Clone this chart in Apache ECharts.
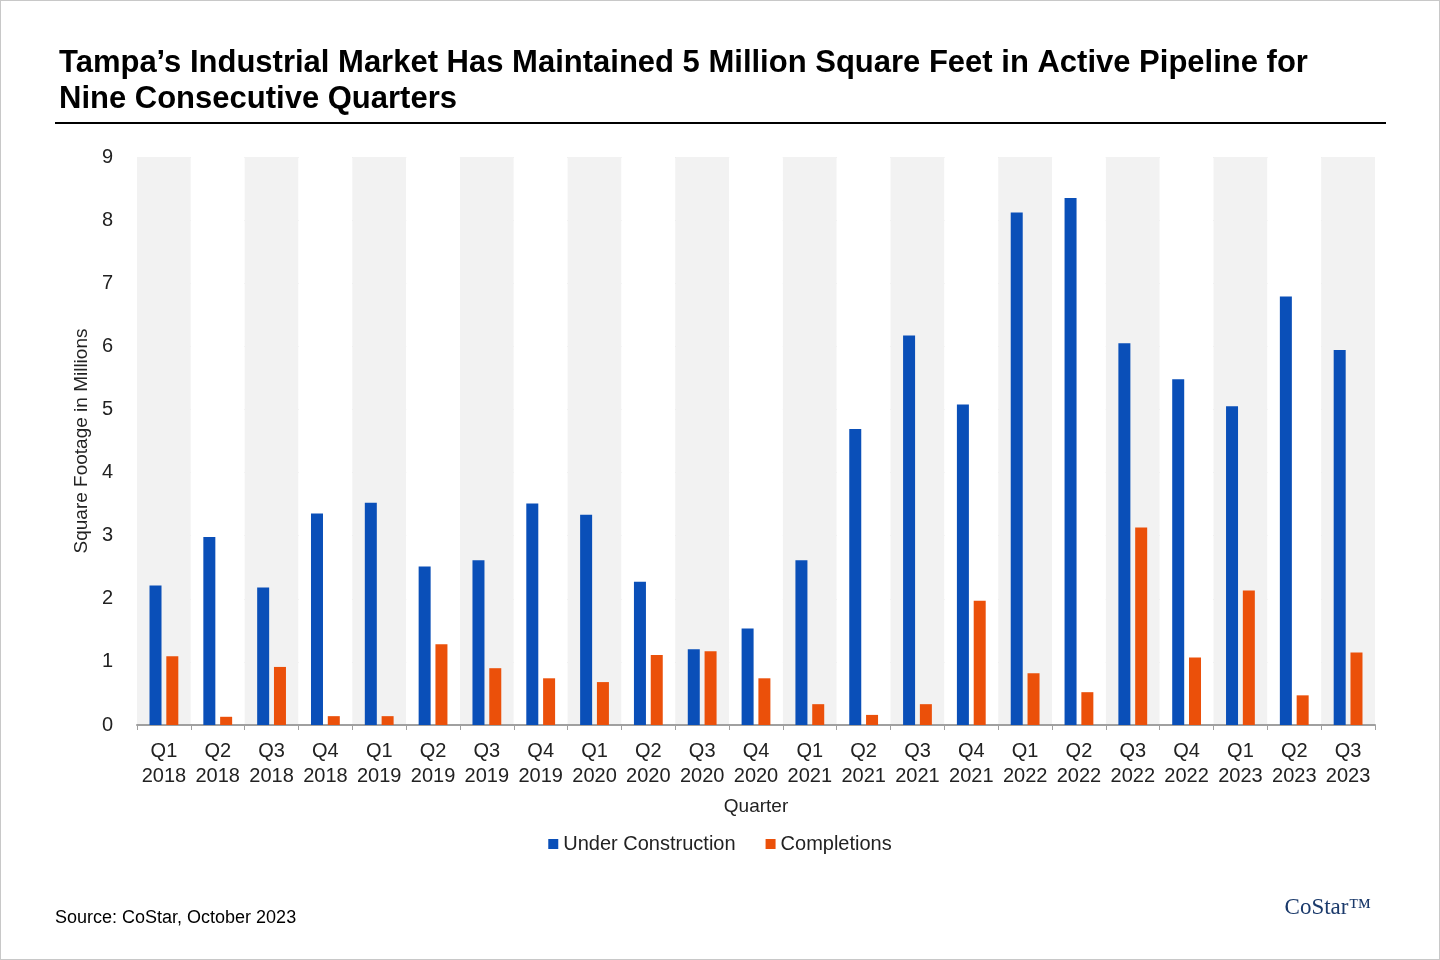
<!DOCTYPE html>
<html><head><meta charset="utf-8">
<script src="https://cdn.jsdelivr.net/npm/echarts@6/dist/echarts.min.js"></script>
<style>html,body{margin:0;background:#fff}#c{width:1438px;height:958px;border:1px solid #c8c8c8}</style>
</head><body><div id="c"></div>
<script>
var quarters = ['Q1\n2018','Q2\n2018','Q3\n2018','Q4\n2018','Q1\n2019','Q2\n2019','Q3\n2019','Q4\n2019',
  'Q1\n2020','Q2\n2020','Q3\n2020','Q4\n2020','Q1\n2021','Q2\n2021','Q3\n2021','Q4\n2021',
  'Q1\n2022','Q2\n2022','Q3\n2022','Q4\n2022','Q1\n2023','Q2\n2023','Q3\n2023'];
var underConstruction = [2.21,2.98,2.18,3.35,3.52,2.51,2.61,3.51,3.33,2.27,1.20,1.53,2.61,4.69,6.17,5.08,8.12,8.35,6.05,5.48,5.05,6.79,5.94];
var completions = [1.09,0.13,0.92,0.14,0.14,1.28,0.90,0.74,0.68,1.11,1.17,0.74,0.33,0.16,0.33,1.97,0.82,0.52,3.13,1.07,2.13,0.47,1.15];

var chart = echarts.init(document.getElementById('c'));
var font = 'Arial, "Liberation Sans", sans-serif';
chart.setOption({
  textStyle: { fontFamily: font },
  title: {
    text: 'Tampa\u2019s Industrial Market Has Maintained 5 Million Square Feet in Active Pipeline for\nNine Consecutive Quarters',
    left: 53, top: 39,
    textStyle: { fontSize: 31, fontWeight: 'bold', color: '#000', lineHeight: 36, fontFamily: font }
  },
  graphic: [
    { type: 'line', shape: { x1: 54, y1: 122, x2: 1385, y2: 122 }, style: { stroke: '#000', lineWidth: 2 } },
    { type: 'text', left: 54, top: 908, style: { text: 'Source: CoStar, October 2023', fontSize: 18, fill: '#000', fontFamily: font } },
    { type: 'text', right: 68, top: 895, style: { text: 'CoStar\u2122', fontSize: 23, fill: '#1b3a6b', fontFamily: 'Liberation Serif, serif' } }
  ],
  legend: {
    bottom: 100, itemWidth: 10, itemHeight: 10, itemGap: 30, icon: 'rect',
    textStyle: { fontSize: 20, color: '#222' },
    data: ['Under Construction', 'Completions']
  },
  grid: { left: 136, right: 64, top: 156, bottom: 234 },
  xAxis: {
    type: 'category', data: quarters,
    name: 'Quarter', nameLocation: 'middle', nameGap: 72,
    nameTextStyle: { fontSize: 19, color: '#222' },
    axisLine: { lineStyle: { color: '#a0a0a0', width: 2 } },
    axisTick: { show: true, length: 5, lineStyle: { color: '#a0a0a0' } },
    axisLabel: { fontSize: 20, color: '#222', lineHeight: 25, interval: 0, margin: 14 },
    splitArea: { show: true, areaStyle: { color: ['#f2f2f2', '#ffffff'] } }
  },
  yAxis: {
    type: 'value', min: 0, max: 9, interval: 1,
    name: 'Square Footage in Millions', nameLocation: 'middle', nameGap: 46,
    nameTextStyle: { fontSize: 19, color: '#222' },
    axisLabel: { fontSize: 20, color: '#222', margin: 24 },
    splitLine: { lineStyle: { color: '#dcdcdc' } }
  },
  series: [
    { name: 'Under Construction', type: 'bar', data: underConstruction, barWidth: 12, barGap: '40%', itemStyle: { color: '#0a4fb8' } },
    { name: 'Completions', type: 'bar', data: completions, barWidth: 12, itemStyle: { color: '#eb500a' } }
  ]
});
</script></body></html>
